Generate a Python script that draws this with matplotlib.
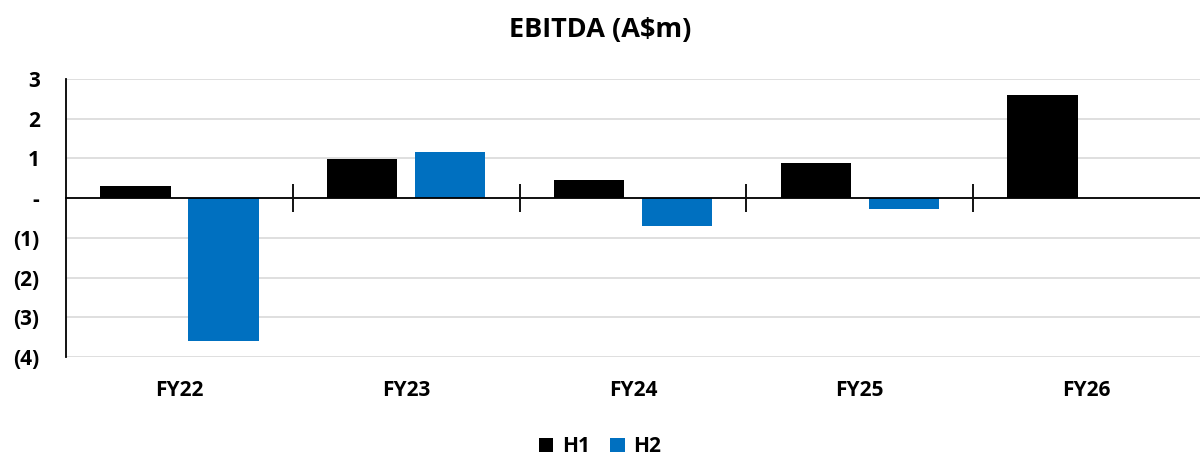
import numpy as np
import matplotlib.pyplot as plt
from matplotlib.transforms import blended_transform_factory

plt.rcParams['font.family'] = ['Open Sans', 'DejaVu Sans']
plt.rcParams['font.weight'] = 'bold'

# EBITDA (A$m) by half year
years = ['FY22', 'FY23', 'FY24', 'FY25', 'FY26']
h1 = [0.30, 0.98, 0.45, 0.88, 2.60]
h2 = [-3.60, 1.17, -0.70, -0.28, np.nan]
y_ticks = [3, 2, 1, 0, -1, -2, -3, -4]

black = '#000000'
blue = '#0070C0'

fig = plt.figure(figsize=(12, 4.57), dpi=100)
ax = fig.add_axes([0.055, 0.219, 0.945, 0.608])

x = np.arange(len(years))
w = 0.31
off = 0.194
ax.bar(x - off, h1, w, color=black, label='H1', zorder=3)
ax.bar(x + off, h2, w, color=blue, label='H2', zorder=3)

ax.set_xlim(-0.5, len(years) - 0.5)
ax.set_ylim(-4, 3)

def fmt(v):
    if v == 0:
        return '-'
    if v < 0:
        return '(%d)' % abs(v)
    return '%d' % v

ax.set_yticks(y_ticks)
ax.set_yticklabels([fmt(v) for v in y_ticks], fontsize=15, fontweight='bold')
ax.tick_params(axis='y', length=0, pad=19)
ax.yaxis.grid(True, color='#d9d9d9', linewidth=1.2, zorder=0)

# zero axis with boundary tick marks
for s in ['top', 'right']:
    ax.spines[s].set_visible(False)
ax.spines['left'].set_linewidth(1.3)
ax.spines['bottom'].set_position(('data', 0))
ax.spines['bottom'].set_linewidth(1.3)
ax.spines['bottom'].set_zorder(4)
ax.set_xticks(x[:-1] + 0.5)
ax.set_xticklabels([])
ax.tick_params(axis='x', direction='inout', length=20, width=1.3)

trans = blended_transform_factory(ax.transData, ax.transAxes)
for xi, lab in zip(x, years):
    ax.text(xi, -0.12, lab, transform=trans, ha='center', va='center',
            fontsize=15, fontweight='bold')

fig.text(0.5, 0.935, 'EBITDA (A$m)', ha='center', va='center',
         fontsize=19.5, fontweight='bold')

leg = fig.legend(loc='center', bbox_to_anchor=(0.5, 0.022), ncol=2, frameon=False,
                 fontsize=15, handlelength=0.7, handleheight=0.7,
                 columnspacing=1.0, handletextpad=0.4)

fig.savefig('out.png', dpi=100)
